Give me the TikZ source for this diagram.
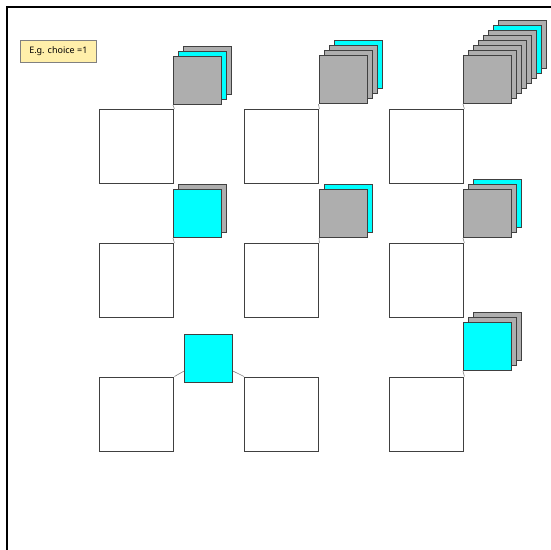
\documentclass[tikz,border=0pt]{standalone}
\usepackage{fontspec}
\setmainfont{Noto Sans}
\definecolor{sqgray}{HTML}{AEAEAE}
\definecolor{sqcyan}{HTML}{00FFFF}
\definecolor{edgegray}{HTML}{404040}
\definecolor{labelfill}{HTML}{FFEFAA}
\tikzset{
  sq/.style={draw=edgegray,line width=1.1pt,minimum width=48pt,minimum height=48pt,inner sep=0pt,anchor=north west,rectangle},
  big/.style={draw=edgegray,line width=1.4pt,fill=white,minimum width=74pt,minimum height=74pt,inner sep=0pt,anchor=north west,rectangle},
  link/.style={draw=gray,line width=0.6pt},
  frameline/.style={draw=black,line width=1.3pt},
  labelbox/.style={draw=gray,fill=labelfill,line width=0.7pt,minimum width=76pt,minimum height=22pt,inner sep=0pt,anchor=north west,font=\fontsize{9}{11}\selectfont}
}
% stack: #1 name, #2 x, #3 y of front, #4 number of back squares, #5 back colours (back to front), #6 front colour
\newcommand\sqstack[6]{%
  \foreach \c [count=\i] in {#5} {
    \node[sq,fill=\c] (#1-\i) at ({#2+5*(#4+1-\i)},{#3-5*(#4+1-\i)}) {};
  }
  \node[sq,fill=#6] (#1) at (#2,#3) {};
}
\begin{document}
\begin{tikzpicture}[x=1pt,y=-1pt]
\useasboundingbox (0,0) rectangle (550,550);
\coordinate (fa) at (7,551);
\coordinate (fb) at (7,7);
\coordinate (fc) at (551,7);
\draw[frameline] (fa) -- (fb) -- (fc);
\node[labelbox] (lab) at (20,40) {E.g. choice =1};

% big squares
\node[big] (b11) at (99,109) {};
\node[big] (b12) at (244,109) {};
\node[big] (b13) at (389,109) {};
\node[big] (b21) at (99,243) {};
\node[big] (b22) at (244,243) {};
\node[big] (b23) at (389,243) {};
\node[big] (b31) at (99,376.5) {};
\node[big] (b32) at (244,376.5) {};
\node[big] (b33) at (389,376.5) {};

% stacks
\sqstack{s11}{173}{56}{2}{sqgray,sqcyan}{sqgray}
\sqstack{s12}{318.5}{55}{3}{sqcyan,sqgray,sqgray}{sqgray}
\sqstack{s13}{463}{55}{7}{sqgray,sqcyan,sqgray,sqgray,sqgray,sqgray,sqgray}{sqgray}
\sqstack{s21}{173}{189}{1}{sqgray}{sqcyan}
\sqstack{s22}{319}{189}{1}{sqcyan}{sqgray}
\sqstack{s23}{463}{189}{2}{sqcyan,sqgray}{sqgray}
\node[sq,fill=sqcyan] (s31) at (184,334) {};
\sqstack{s33}{463}{322}{2}{sqgray,sqgray}{sqcyan}

% links
\draw[link] (s11.south west) -- (b11.north east);
\draw[link] (s12.south west) -- (b12.north east);
\draw[link] (s13.south west) -- (b13.north east);
\draw[link] (s21.south west) -- (b21.north east);
\draw[link] (s22.south west) -- (b22.north east);
\draw[link] (s23.south west) -- (b23.north east);
\draw[link] ([yshift=12pt]s31.south west) -- (b31.north east);
\draw[link] ([yshift=12pt]s31.south east) -- (b32.north west);
\draw[link] (s33.south west) -- (b33.north east);
\end{tikzpicture}
\end{document}
